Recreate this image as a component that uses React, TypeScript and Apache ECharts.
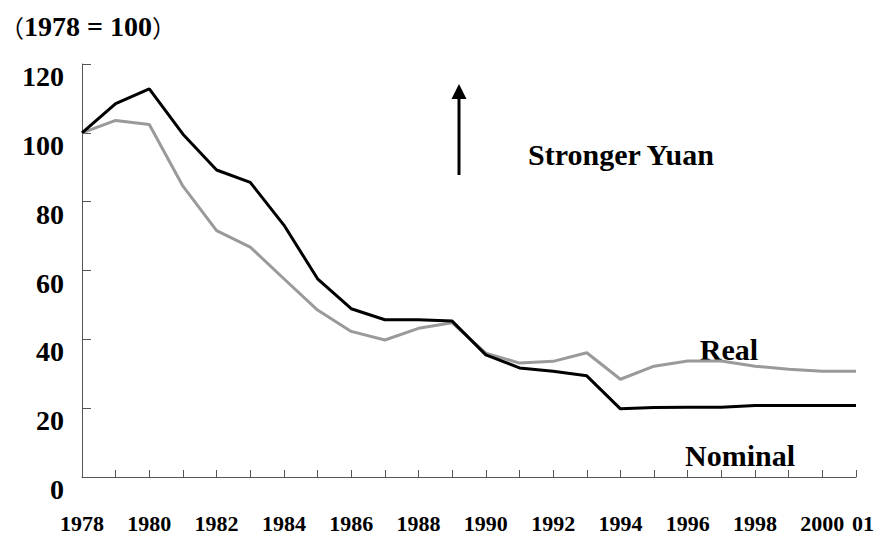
import React, { useEffect, useRef } from "react";
import * as echarts from "echarts";

const years: string[] = [
  "1978", "1979", "1980", "1981", "1982", "1983", "1984", "1985", "1986", "1987", "1988", "1989",
  "1990", "1991", "1992", "1993", "1994", "1995", "1996", "1997", "1998", "1999", "2000", "2001",
];

const nominal: number[] = [
  100, 108.5, 112.8, 99.6, 89.2, 85.6, 73.2, 57.6, 48.9, 45.7, 45.7, 45.3,
  35.5, 31.7, 30.7, 29.4, 19.8, 20.2, 20.3, 20.3, 20.8, 20.8, 20.8, 20.8,
];

const real: number[] = [
  100, 103.6, 102.4, 84.5, 71.6, 66.8, 57.6, 48.5, 42.3, 39.8, 43.2, 44.8,
  36.0, 33.1, 33.6, 36.1, 28.4, 32.2, 33.7, 33.7, 32.2, 31.3, 30.7, 30.7,
];

const yTicks = { min: 0, max: 120, interval: 20 };

const SERIF = "'Liberation Serif', 'Times New Roman', serif";

export default function App() {
  const ref = useRef<HTMLDivElement>(null);

  useEffect(() => {
    if (!ref.current) return;
    const chart = echarts.init(ref.current, null, { renderer: "svg" });
    const axisColor = "#555";
    const yearLabelStyle = { fontFamily: SERIF, fontWeight: "bold", fontSize: 22, color: "#000" };
    chart.setOption({
      animation: false,
      backgroundColor: "#fff",
      grid: { left: 82, right: 19, top: 64, bottom: 53, containLabel: false },
      xAxis: {
        type: "category",
        boundaryGap: false,
        data: years,
        axisLine: { show: true, lineStyle: { color: axisColor, width: 1 } },
        axisTick: { show: true, inside: true, length: 7, interval: 0, lineStyle: { color: axisColor } },
        axisLabel: {
          interval: (i: number) => i % 2 === 0 || i === years.length - 1,
          formatter: (v: string) => (v === "2001" ? "{r|01}" : v),
          margin: 35,
          ...yearLabelStyle,
          hideOverlap: false,
          rich: {
            r: { ...yearLabelStyle, padding: [0, 0, 0, 14] },
          },
        },
        splitLine: { show: false },
      },
      yAxis: {
        type: "value",
        min: yTicks.min,
        max: yTicks.max,
        interval: yTicks.interval,
        axisLine: { show: true, lineStyle: { color: axisColor, width: 1 } },
        axisTick: { show: true, inside: true, length: 9, lineStyle: { color: axisColor } },
        axisLabel: {
          margin: 18,
          fontFamily: SERIF,
          fontWeight: "bold",
          fontSize: 28,
          lineHeight: 25,
          verticalAlign: "top",
          color: "#000",
        },
        splitLine: { show: false },
      },
      series: [
        {
          name: "Real",
          type: "line",
          data: real,
          symbol: "none",
          lineStyle: { color: "#9a9a9a", width: 3 },
          z: 2,
        },
        {
          name: "Nominal",
          type: "line",
          data: nominal,
          symbol: "none",
          lineStyle: { color: "#000", width: 3 },
          z: 3,
        },
      ],
      graphic: [
        {
          type: "text",
          left: 0,
          top: 12,
          style: {
            text: "{p|（}{b|1978 = 100}{p|）}",
            rich: {
              p: { fontFamily: "'Noto Sans CJK SC', sans-serif", fontSize: 24, fill: "#000" },
              b: { fontFamily: SERIF, fontWeight: "bold", fontSize: 28, fill: "#000" },
            },
          },
        },
        {
          type: "line",
          shape: { x1: 459, y1: 175, x2: 459, y2: 96 },
          style: { stroke: "#000", lineWidth: 3 },
        },
        {
          type: "polygon",
          shape: { points: [[459, 84], [451.5, 99], [466.5, 99]] },
          style: { fill: "#000" },
        },
        {
          type: "text",
          x: 528,
          y: 154,
          style: {
            text: "Stronger Yuan",
            fontFamily: SERIF,
            fontWeight: "bold",
            fontSize: 30,
            fill: "#000",
            verticalAlign: "middle",
            align: "left",
          },
        },
        {
          type: "text",
          x: 729,
          y: 349,
          style: {
            text: "Real",
            fontFamily: SERIF,
            fontWeight: "bold",
            fontSize: 30,
            fill: "#000",
            verticalAlign: "middle",
            align: "center",
          },
        },
        {
          type: "text",
          x: 740,
          y: 455,
          style: {
            text: "Nominal",
            fontFamily: SERIF,
            fontWeight: "bold",
            fontSize: 30,
            fill: "#000",
            verticalAlign: "middle",
            align: "center",
          },
        },
      ],
    });
    return () => chart.dispose();
  }, []);

  return (
    <div
      ref={ref}
      style={{ position: "fixed", left: 0, top: 0, width: 877, height: 534, background: "#fff" }}
    />
  );
}
